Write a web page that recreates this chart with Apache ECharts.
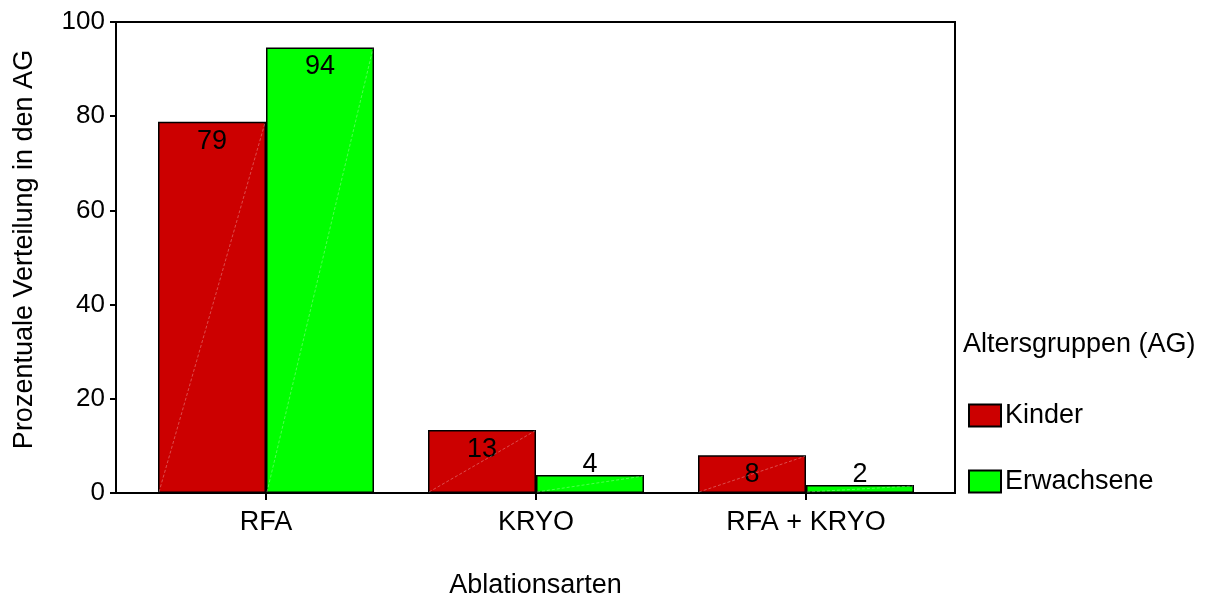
<!DOCTYPE html>
<html><head><meta charset="utf-8">
<script src="https://cdn.jsdelivr.net/npm/echarts@6/dist/echarts.min.js"></script>
<style>html,body{margin:0;padding:0;background:#fff}#c{width:1206px;height:595px}</style>
</head><body><div id="c"></div>
<script>
const categories = ['RFA', 'KRYO', 'RFA + KRYO'];
const kinder = [78.8, 13.4, 8.0];
const erwachsene = [94.6, 3.8, 1.7];
const kinderLabels = ['79', '13', '8'];
const erwachseneLabels = ['94', '4', '2'];
const yTicks = [0, 20, 40, 60, 80, 100];

const FONT = 'Liberation Sans';
const GAP = 0.20;
const chart = echarts.init(document.getElementById('c'));

function mkData(vals, labels){
  return vals.map((v,i)=>({
    value: v,
    label: {
      show: true,
      position: v > 6 ? 'insideTop' : 'top',
      distance: v > 6 ? 6 : -3,
      formatter: labels[i]
    }
  }));
}

function diagRender(seriesIdx){
  return function(params, api){
    const ci = api.value(0);
    const v = api.value(1);
    const base = api.coord([ci, 0]);
    const top = api.coord([ci, v]);
    const band = api.size([1, 0])[0];
    const bw = band * (1 - GAP) / 2;
    const x0 = seriesIdx === 0 ? base[0] - bw : base[0];
    const x1 = x0 + bw;
    return {
      type: 'line',
      shape: {x1: x0 + 1, y1: base[1] - 1, x2: x1 - 1, y2: top[1] + 1},
      style: {stroke: 'rgba(255,255,255,0.3)', lineWidth: 1, lineDash: [3, 2]}
    };
  };
}

const gridCommon = {top: 22, bottom: 102, outerBoundsMode: 'none', containLabel: false};

chart.setOption({
  animation: false,
  textStyle: {fontFamily: FONT},
  grid: [
    Object.assign({left: 131, right: 265}, gridCommon),
    Object.assign({left: 116, right: 251, show: true, borderColor: '#000', borderWidth: 2, backgroundColor: 'transparent'}, gridCommon)
  ],
  graphic: [{
    type: 'text', left: 963, top: 331,
    style: {text: 'Altersgruppen (AG)', fontSize: 27, fontFamily: FONT, fill: '#000'}
  }],
  legend: {
    orient: 'vertical', left: 968, top: 402, padding: 0,
    data: ['Kinder', 'Erwachsene'],
    itemWidth: 32, itemHeight: 22, itemGap: 39,
    textStyle: {fontSize: 27, fontFamily: FONT, color: '#000', padding: [0,0,0,-1]},
    icon: 'rect'
  },
  xAxis: [
    {
      type: 'category', data: categories, gridIndex: 0,
      axisLine: {show: false},
      axisTick: {show: true, alignWithLabel: true, length: 7, lineStyle: {color: '#000', width: 2}},
      axisLabel: {fontSize: 27, color: '#000', margin: 16, fontFamily: FONT}
    },
    {
      type: 'value', gridIndex: 1, min: 0, max: 1,
      name: 'Ablationsarten', nameLocation: 'middle', nameGap: 79,
      nameTextStyle: {fontSize: 27, color: '#000', fontFamily: FONT},
      axisLine: {show: true, lineStyle: {color: '#000', width: 2}},
      axisTick: {show: false}, axisLabel: {show: false}, splitLine: {show: false}
    }
  ],
  yAxis: [
    {
      type: 'value', gridIndex: 0, min: 0, max: 100, interval: 20,
      axisLine: {show: false}, axisTick: {show: false}, axisLabel: {show: false}, splitLine: {show: false}
    },
    {
      type: 'value', gridIndex: 1, min: 0, max: 100, interval: 20,
      name: 'Prozentuale Verteilung in den AG', nameLocation: 'middle', nameGap: 78,
      nameTextStyle: {fontSize: 27, color: '#000', fontFamily: FONT, padding: [0, 0, 0, 16]},
      axisLine: {show: true, lineStyle: {color: '#000', width: 2}},
      axisTick: {show: true, length: 6, lineStyle: {color: '#000', width: 2}},
      splitLine: {show: false},
      axisLabel: {fontSize: 26, color: '#000', margin: 11, fontFamily: FONT,
        formatter: v => yTicks.includes(v) ? String(v) : ''}
    }
  ],
  series: [
    {name: 'Kinder', type: 'bar', xAxisIndex: 0, yAxisIndex: 0, data: mkData(kinder, kinderLabels), barGap: '0%', barCategoryGap: (GAP*100)+'%',
      itemStyle: {color: '#CC0000', borderColor: '#000', borderWidth: 1.5},
      label: {fontSize: 27, color: '#000', fontFamily: FONT}},
    {name: 'Erwachsene', type: 'bar', xAxisIndex: 0, yAxisIndex: 0, data: mkData(erwachsene, erwachseneLabels), barGap: '0%', barCategoryGap: (GAP*100)+'%',
      itemStyle: {color: '#00FF00', borderColor: '#000', borderWidth: 1.5},
      label: {fontSize: 27, color: '#000', fontFamily: FONT}},
    {type: 'custom', xAxisIndex: 0, yAxisIndex: 0, renderItem: diagRender(0), data: kinder.map((v,i)=>[i,v]), z: 3, silent: true},
    {type: 'custom', xAxisIndex: 0, yAxisIndex: 0, renderItem: diagRender(1), data: erwachsene.map((v,i)=>[i,v]), z: 3, silent: true}
  ]
});
</script>
</body></html>
